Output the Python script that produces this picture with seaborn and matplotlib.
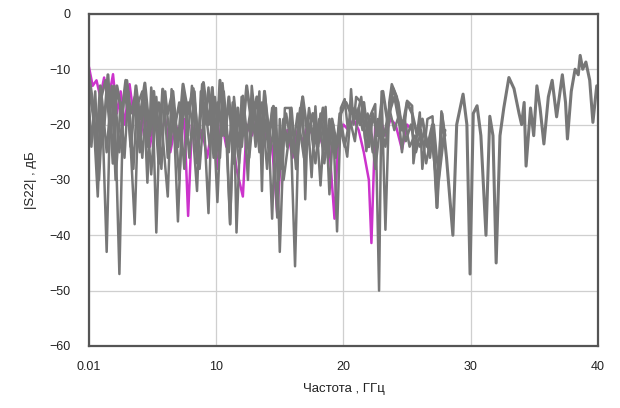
import numpy as np
import matplotlib
matplotlib.use("Agg")
import matplotlib.pyplot as plt
import seaborn as sns

# -----------------------------------
# DATA (GHz / dB)
# -----------------------------------

freq_a = [0.01, 0.3, 0.6, 0.9, 1.2, 1.5, 1.9, 2.2, 2.6, 2.9, 3.3, 3.7, 4.0, 4.4, 4.8,
          5.1, 5.5, 5.8, 6.2, 6.6, 7.0, 7.4, 7.8, 8.2, 8.6, 9.0, 9.4, 9.7, 10.0, 10.3,
          10.7, 11.0, 11.4, 11.7, 12.0, 12.4, 12.8, 13.2, 13.5, 13.8, 14.1, 14.5, 14.9,
          15.3, 15.6, 15.9, 16.3, 16.8, 17.2, 17.6, 18.0, 18.4, 18.8, 19.1, 19.5, 19.8,
          20.2, 20.6, 20.9, 21.3, 21.6, 22.0, 22.3, 22.7, 23.1, 23.5, 23.9, 24.3, 24.6,
          25.0, 25.4, 25.8, 26.2, 26.6, 27.0, 27.35, 27.74, 28.1, 28.6, 28.9, 29.4, 29.7,
          29.95, 30.2, 30.5, 30.8, 31.2, 31.5, 31.75, 32.0, 32.3, 32.6, 33.0, 33.4, 33.8,
          34.0, 34.2, 34.35, 34.7, 34.95, 35.2, 35.45, 35.75, 36.1, 36.4, 36.75, 37.2,
          37.45, 37.6, 37.9, 38.2, 38.45, 38.6, 38.8, 39.05, 39.35, 39.6, 39.9, 40.0]
s22_a = [-11, -16, -24, -13, -20, -11, -27, -13, -18, -12, -24, -13, -19, -12.5, -22,
         -14, -27, -13.6, -18, -14, -24, -12.7, -18, -13.5, -23, -12.4, -20, -13.3, -26, -12,
         -22, -15, -27, -17, -24, -13, -20, -15, -24, -14, -22, -16.7, -30,
         -19, -24, -17, -28, -15, -22, -18, -24, -17, -26, -19, -24, -18,
         -16, -18, -17, -20, -16, -24, -18, -22, -14, -20, -13.5, -16, -21,
         -16, -18, -22, -19, -24, -20, -35, -18, -26, -40, -20, -14.5, -20,
         -47, -18, -16.6, -22, -40, -18.5, -22, -45, -22, -17, -11.5, -13.5, -18,
         -20, -16, -27.5, -17, -22, -13, -17, -23.5, -15, -12, -18.6, -11,
         -16, -22.6, -14, -10, -11, -7.5, -10, -8.7, -12, -19.6, -13, -13]

freq_b = [0.01, 0.4, 0.7, 1.0, 1.4, 1.7, 2.0, 2.4, 2.8, 3.2, 3.6, 3.9, 4.2, 4.6, 5.0,
          5.3, 5.6, 5.9, 6.2, 6.6, 7.0, 7.4, 7.8, 8.1, 8.5, 8.9, 9.4, 9.7, 10.1, 10.5,
          10.8, 11.1, 11.4, 11.6, 12.0, 12.4, 12.8, 13.1, 13.4, 13.6, 13.8, 14.1, 14.4,
          14.7, 15.0, 15.4, 15.8, 16.2, 16.5, 16.8, 17.0, 17.2, 17.5, 17.8, 18.2, 18.6,
          18.9, 19.2, 19.5, 19.8, 20.1, 20.4, 20.6, 20.8, 21.0, 21.4, 21.7, 22.0, 22.5,
          22.8, 23.0, 23.3, 23.6, 23.8, 24.2, 24.6, 25.0, 25.4, 25.5, 26.0, 26.2, 26.6,
          27.0, 27.35, 27.7, 28.0]
s22_b = [-12, -20, -28, -14, -43, -15, -13, -25, -14, -20, -38, -16, -14, -24, -15,
         -39.5, -17, -14.8, -26, -15, -37.5, -14, -22, -13, -27, -12.7, -36, -14, -34, -12.5,
         -20, -38, -17, -39.5, -15, -22, -16, -24, -14, -32, -14, -20, -37,
         -17, -43, -17, -17, -45.6, -19, -15, -33.5, -19, -29.5, -16.7, -31, -16.8,
         -32.6, -20, -39.3, -17, -15.4, -22, -13.6, -20, -15, -16, -22.6, -19, -16.3,
         -50, -14, -39, -16, -12.7, -15, -25, -15.7, -16.6, -27, -17.8, -28, -19,
         -18.5, -35, -17.6, -22]

freq_c = [0.01, 0.35, 0.7, 1.0, 1.3, 1.7, 2.0, 2.4, 2.7, 3.0, 3.3, 3.6, 4.0, 4.3, 4.6,
          4.9, 5.2, 5.5, 5.8, 6.2, 6.5, 6.8, 7.1, 7.5, 7.8, 8.1, 8.5, 8.8, 9.1, 9.4,
          9.8, 10.1, 10.5, 10.7, 11.1, 11.4, 11.8, 12.1, 12.5, 12.8, 13.2, 13.6, 14.0,
          14.4, 14.8, 15.0, 15.3, 15.8, 16.2, 16.6, 17.0, 17.4, 17.8, 18.2, 18.6, 19.0,
          19.4, 19.7, 20.0, 20.3, 20.6, 21.0, 21.4, 21.8, 22.1, 22.5, 22.9, 23.3, 23.6,
          24.0, 24.4, 24.8, 25.2, 25.6, 26.0, 26.4, 26.8, 27.1, 27.5, 27.9]
s22_c = [-14, -18, -33, -15, -12, -22, -14, -47, -16, -12, -18, -15, -25, -14, -30.5,
         -13.3, -20, -16, -22, -33, -13.6, -20, -16, -28, -16, -19, -32, -14, -20, -13.3,
         -26, -16, -22, -17, -38, -15, -24, -14.8, -30, -13, -22, -16, -28,
         -17, -36.8, -19, -30, -21, -26, -17, -24, -20, -27, -18, -25, -20,
         -26, -18, -22, -25.8, -17, -19, -15, -24.8, -19, -28, -20, -24, -18,
         -15, -20, -19, -24, -22, -24, -21, -26, -20, -30, -22]

freq_d = [0.01, 0.2, 0.5, 0.8, 1.1, 1.4, 1.8, 2.1, 2.5, 2.8, 3.1, 3.5, 3.8, 4.2, 4.5,
          4.9, 5.3, 5.7, 6.0, 6.4, 6.7, 7.1, 7.5, 7.9, 8.3, 8.7, 9.1, 9.5, 9.9, 10.3,
          10.6, 11.0, 11.3, 11.8, 12.2, 12.6, 13.0, 13.4, 13.7, 14.2, 14.6, 15.1, 15.5,
          16.0, 16.4, 16.9, 17.3, 17.7, 18.1, 18.5, 18.9, 19.3, 19.7, 20.1, 20.5, 20.9,
          21.2, 21.5, 21.9, 22.3, 22.7, 23.2, 23.6, 24.0, 24.4, 24.9, 25.3, 25.7, 26.1,
          26.5, 26.9, 27.3, 27.7, 28.0]
s22_d = [-16, -24, -14, -30, -17, -25, -13, -30, -16, -26, -14, -28, -15, -26, -16,
         -29, -15, -28, -14, -24, -17, -30, -15, -26, -14, -28, -16, -24, -15, -26,
         -14, -25, -16, -27, -17, -26, -16, -25, -17, -26, -19, -28, -18,
         -25, -18, -26, -17, -24, -19, -27, -19, -25, -20, -24, -19, -23,
         -17, -21, -18, -25, -19, -22, -17, -21, -18, -23, -20, -25, -21,
         -27, -22, -30, -24, -21]

freq_m = [0.01, 0.3, 0.6, 0.9, 1.2, 1.5, 1.9, 2.2, 2.5, 2.8, 3.2, 3.5, 3.8, 4.1, 4.4,
          4.8, 5.2, 5.6, 6.0, 6.4, 6.8, 7.2, 7.5, 7.8, 8.1, 8.5, 8.9, 9.3, 9.7, 10.1,
          10.4, 10.8, 11.2, 11.6, 12.1, 12.4, 12.8, 13.2, 13.6, 14.0, 14.4, 14.8, 15.2,
          15.6, 16.0, 16.4, 16.8, 17.2, 17.6, 18.0, 18.4, 18.8, 19.3, 19.6, 20.0, 20.4,
          20.8, 21.2, 21.6, 22.0, 22.2, 22.5, 22.9, 23.3, 23.7, 24.1, 24.6, 25.0, 25.4]
s22_m = [-9.6, -13, -12, -15, -11.5, -16, -10.9, -18, -14, -20, -12.7, -18, -15, -22, -17,
         -24, -18, -22, -19, -25, -20, -22, -19, -36.5, -20, -24, -21, -26, -20, -28,
         -19, -24, -21, -28, -33, -20, -22, -19, -25, -21, -24, -36, -22,
         -21, -26, -21, -23, -20, -22, -21, -24, -21, -37, -22, -20, -21,
         -19, -21, -25, -30, -41.4, -20, -19, -22, -19, -20, -24.5, -20, -21]

x_ticks = [0.01, 10, 20, 30, 40]
x_tick_labels = ["0.01", "10", "20", "30", "40"]
y_ticks = [0, -10, -20, -30, -40, -50, -60]

# -----------------------------------
# PLOT
# -----------------------------------

sns.set_style("whitegrid")
plt.rcParams["font.family"] = ["Liberation Sans", "DejaVu Sans"]

fig = plt.figure(figsize=(6.2, 4.08), dpi=100)
ax = fig.add_axes([0.1435, 0.152, 0.821, 0.814])

gray = "#777777"
magenta = "#cc33cc"

sns.lineplot(x=freq_m, y=s22_m, color=magenta, linewidth=1.8, ax=ax)
sns.lineplot(x=freq_d, y=s22_d, color=gray, linewidth=1.8, ax=ax)
sns.lineplot(x=freq_c, y=s22_c, color=gray, linewidth=1.8, ax=ax)
sns.lineplot(x=freq_b, y=s22_b, color=gray, linewidth=1.8, ax=ax)
sns.lineplot(x=freq_a, y=s22_a, color=gray, linewidth=2.2, ax=ax)

ax.set_xlim(0.01, 40)
ax.set_ylim(-60, 0)
ax.set_xticks(x_ticks)
ax.set_xticklabels(x_tick_labels)
ax.set_yticks(y_ticks)

ax.grid(True, color="#cfcfcf", linewidth=0.9)
for side in ax.spines.values():
    side.set_color("#555555")
    side.set_linewidth(1.6)

ax.tick_params(axis="x", length=0, pad=11, labelsize=9, labelcolor="#222222")
ax.tick_params(axis="y", length=0, pad=13, labelsize=9, labelcolor="#222222")

ax.set_xlabel("Частота , ГГц", fontsize=9.5, color="#222222", labelpad=7)
ax.set_ylabel("|S22| , дБ", fontsize=9.5, color="#222222", labelpad=9)

fig.savefig("out.png", dpi=100, facecolor="white")
